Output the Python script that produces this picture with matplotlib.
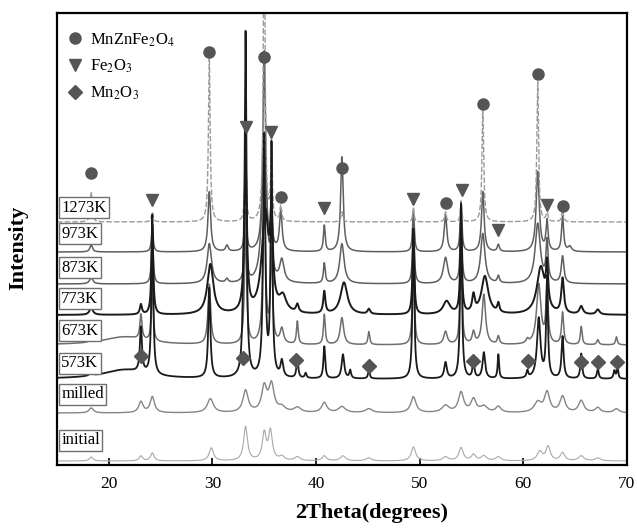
import numpy as np
import matplotlib.pyplot as plt

plt.rcParams['font.family'] = ['Liberation Serif', 'DejaVu Serif']
plt.rcParams['mathtext.fontset'] = 'stix'

# sample names, baseline offsets and peak lists (2theta, height, half width)
samples = ['initial', 'milled', '573K', '673K', '773K', '873K', '973K', '1273K']
offsets = [4, 52, 86, 120, 150, 181, 213, 243]

peaks_initial = [(18.3, 4, .2), (23.1, 5, .2), (24.2, 8, .2), (29.9, 13, .25), (33.2, 34, .22),
                 (35.0, 27, .22), (35.6, 29, .22), (36.7, 4, .3), (38.2, 4, .3), (40.8, 5, .25),
                 (42.6, 5, .3), (45.1, 3, .3), (49.4, 14, .25), (52.5, 4, .3), (54.0, 13, .25),
                 (55.2, 6, .25), (56.2, 5, .3), (57.6, 4, .3), (61.6, 9, .3), (62.4, 14, .25),
                 (63.8, 8, .25), (65.6, 5, .3), (67.2, 3, .3)]
peaks_milled = [(18.3, 5, .25), (23.1, 11, .25), (24.2, 16, .25), (29.8, 14, .35), (33.2, 22, .3),
                (35.0, 25, .3), (35.7, 27, .3), (36.7, 5, .4), (38.2, 5, .4), (40.8, 10, .3),
                (42.5, 6, .4), (45.1, 4, .4), (49.4, 16, .3), (52.5, 7, .4), (54.0, 20, .3),
                (55.2, 13, .3), (56.2, 6, .4), (57.6, 6, .3), (61.4, 10, .4), (62.3, 20, .3),
                (63.8, 16, .3), (65.6, 12, .3), (67.2, 5, .3), (69.0, 4, .3)]
peaks_573 = [(21.5, 9, 2.5), (18.3, 4, .15), (23.1, 45, .12), (24.2, 160, .1), (29.7, 90, .12),
             (33.0, 60, .12), (33.2, 330, .1), (35.0, 240, .12), (35.7, 230, .1), (36.7, 16, .15),
             (38.2, 20, .1), (39.0, 5, .1), (40.8, 32, .1), (42.6, 24, .15), (43.3, 8, .1),
             (45.1, 8, .1), (49.4, 150, .1), (52.5, 16, .15), (54.0, 175, .1), (55.2, 19, .1),
             (56.2, 26, .15), (57.6, 24, .08), (60.4, 7, .1), (61.5, 60, .2), (62.3, 100, .1),
             (63.8, 42, .12), (65.6, 25, .1), (67.2, 10, .1), (68.8, 8, .1), (69.1, 12, .08)]
peaks_673 = [(21.5, 8, 2.5), (18.3, 4, .15), (23.1, 25, .12), (24.2, 60, .1), (29.7, 60, .15),
             (33.2, 120, .12), (35.0, 150, .15), (35.7, 90, .12), (36.7, 15, .2), (38.2, 23, .1),
             (40.8, 30, .1), (42.5, 27, .2), (45.1, 13, .1), (49.4, 100, .1), (52.5, 13, .2),
             (54.0, 110, .1), (55.2, 12, .15), (56.2, 50, .2), (57.6, 8, .12), (60.4, 4, .15),
             (61.5, 60, .25), (62.3, 60, .12), (63.8, 32, .12), (65.6, 18, .1), (67.2, 5, .12),
             (69.0, 8, .1)]
peaks_773 = [(18.3, 7, .2), (23.1, 10, .12), (24.2, 90, .1), (29.8, 50, .35), (33.2, 150, .15),
             (35.1, 100, .4), (35.7, 80, .15), (36.8, 15, .4), (38.2, 8, .15), (40.8, 22, .12),
             (42.7, 32, .4), (45.1, 5, .15), (49.4, 80, .1), (52.6, 13, .4), (54.0, 90, .1),
             (55.2, 17, .15), (56.3, 38, .4), (57.6, 9, .12), (61.7, 47, .45), (62.3, 40, .12),
             (63.8, 35, .15), (65.6, 8, .2), (67.2, 5, .2)]
peaks_873 = [(18.3, 6, .2), (24.2, 50, .1), (29.7, 40, .25), (31.4, 4, .15), (33.2, 60, .12),
             (35.0, 150, .25), (35.7, 40, .12), (36.7, 22, .25), (40.8, 20, .1), (42.5, 40, .25),
             (49.4, 60, .1), (52.5, 26, .25), (54.0, 70, .1), (56.1, 50, .25), (57.6, 7, .12),
             (61.4, 60, .3), (62.3, 40, .12), (63.8, 27, .15)]
peaks_973 = [(18.3, 7, .15), (24.2, 25, .1), (29.7, 60, .15), (31.4, 6, .15), (33.2, 40, .12),
             (35.0, 200, .15), (35.7, 30, .12), (36.6, 40, .15), (40.8, 26, .1), (42.5, 95, .15),
             (49.4, 40, .1), (52.5, 37, .15), (54.0, 50, .1), (56.1, 60, .15), (57.6, 7, .12),
             (61.4, 80, .18), (62.3, 30, .12), (63.8, 35, .12), (64.5, 5, .2)]
peaks_1273 = [(18.3, 30, .1), (24.2, 10, .1), (29.7, 165, .1), (33.2, 82, .08), (35.0, 320, .1),
              (35.7, 82, .08), (36.6, 15, .1), (42.5, 10, .1), (49.4, 15, .08), (52.5, 10, .1),
              (54.0, 20, .08), (56.1, 112, .1), (61.4, 140, .1), (62.3, 12, .08), (63.8, 12, .1)]
all_peaks = [peaks_initial, peaks_milled, peaks_573, peaks_673, peaks_773, peaks_873, peaks_973, peaks_1273]

# phase markers (2theta, height on plot)
spinel_x = [18.3, 29.7, 35.0, 36.6, 42.5, 52.5, 56.1, 61.4, 63.8]
spinel_y = [292, 413, 408, 268, 297, 262, 361, 391, 259]
fe2o3_x = [24.2, 33.25, 35.65, 40.8, 49.35, 54.05, 57.6, 62.3]
fe2o3_y = [265, 338, 333, 257, 266, 275, 235, 260]
mn2o3_x = [23.1, 33.0, 38.1, 45.1, 55.2, 60.5, 65.6, 67.2, 69.05]
mn2o3_y = [109, 107, 105, 99, 104, 104, 103, 103, 103]

label_y = [25, 71, 102, 134, 166, 197, 231, 257]

colors = ['#a8a8a8', '#858585', '#1a1a1a', '#6e6e6e', '#1a1a1a', '#5e5e5e', '#5e5e5e', '#9a9a9a']
widths = [0.8, 1.0, 1.3, 1.1, 1.4, 1.1, 1.1, 1.0]

fig = plt.figure(figsize=(6.37, 5.3), dpi=100)
ax = fig.add_axes([0.0895, 0.1226, 0.8945, 0.853])

tt = np.linspace(15, 70, 6000)
for i, name in enumerate(samples):
    y = np.full_like(tt, offsets[i], dtype=float)
    for pos, h, w in all_peaks[i]:
        y += h / (1 + ((tt - pos) / w) ** 2)
    ls = (0, (4, 1.5)) if name == '1273K' else '-'
    ax.plot(tt, y, color=colors[i], lw=widths[i], ls=ls, zorder=2 + (i == 2) + (i == 4))
    ax.text(15.4, label_y[i], name, fontsize=12, va='center', ha='left', zorder=5,
            bbox=dict(boxstyle='square,pad=0.15', fc='white', ec='#707070', lw=1))

mk = '#555555'
ax.plot(spinel_x, spinel_y, 'o', color=mk, ms=8, ls='none', zorder=6, label='MnZnFe$_2$O$_4$')
ax.plot(fe2o3_x, fe2o3_y, 'v', color=mk, ms=9, ls='none', zorder=6, label='Fe$_2$O$_3$')
ax.plot(mn2o3_x, mn2o3_y, 'D', color=mk, ms=7, ls='none', zorder=6, label='Mn$_2$O$_3$')

ax.legend(loc='upper left', bbox_to_anchor=(-0.016, 1.0), frameon=False, fontsize=12,
          handlelength=1.0, handletextpad=0.45, labelspacing=0.55, borderaxespad=0.5, borderpad=0.6)

ax.set_xlim(15, 70)
ax.set_ylim(0, 452)
ax.set_yticks([])
ax.set_xticks([20, 30, 40, 50, 60, 70])
ax.tick_params(axis='x', direction='in', length=5, width=1.2, labelsize=12.5, pad=8)
for s in ax.spines.values():
    s.set_linewidth(1.6)

ax.set_xlabel('2Theta(degrees)', fontsize=16, fontweight='bold')
ax.xaxis.set_label_coords(0.553, -0.085)
ax.set_ylabel('Intensity', fontsize=16, fontweight='bold')
ax.yaxis.set_label_coords(-0.05, 0.48)

fig.savefig('out.png', dpi=100)
